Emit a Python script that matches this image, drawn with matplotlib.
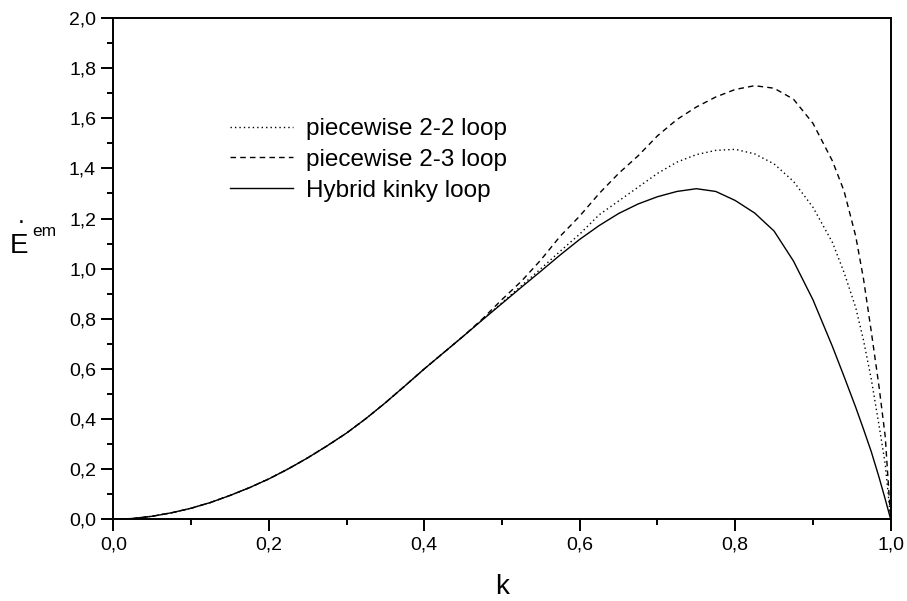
import matplotlib
matplotlib.use('Agg')
import matplotlib.pyplot as plt
from matplotlib.ticker import MultipleLocator, FuncFormatter

plt.rcParams['font.family'] = ['Liberation Sans', 'DejaVu Sans']

k = [0.0, 0.025, 0.05, 0.075, 0.1, 0.125, 0.15, 0.175, 0.2, 0.225, 0.25, 0.275, 0.3,
     0.325, 0.35, 0.375, 0.4, 0.425, 0.45, 0.475, 0.5, 0.525, 0.55, 0.575, 0.6, 0.625,
     0.65, 0.675, 0.7, 0.725, 0.75, 0.775, 0.8, 0.825, 0.85, 0.875, 0.9, 0.925, 0.94,
     0.955, 0.965, 0.975, 0.985, 0.993, 1.0]
# common rising part, k = 0 .. 0.45
e_low = [0.0, 0.003, 0.012, 0.026, 0.044, 0.067, 0.095, 0.126, 0.161, 0.201, 0.245, 0.293,
         0.344, 0.402, 0.465, 0.532, 0.600, 0.665, 0.730]
e_22 = e_low + [0.797, 0.864, 0.932, 1.000, 1.07, 1.138, 1.215, 1.27, 1.325, 1.38, 1.425,
                1.455, 1.472, 1.476, 1.458, 1.418, 1.348, 1.245, 1.105, 0.985, 0.845, 0.715, 0.56,
                0.375, 0.22, 0.0]
e_23 = e_low + [0.80, 0.877, 0.95, 1.035, 1.13, 1.21, 1.30, 1.38, 1.45, 1.53, 1.595, 1.645,
                1.685, 1.715, 1.73, 1.72, 1.676, 1.58, 1.43, 1.31, 1.13, 0.96, 0.75, 0.53,
                0.33, 0.0]
e_hyb = e_low + [0.796, 0.861, 0.926, 0.99, 1.055, 1.117, 1.172, 1.22, 1.258, 1.287, 1.308,
                 1.319, 1.308, 1.272, 1.222, 1.150, 1.03, 0.876, 0.69, 0.57, 0.447, 0.36,
                 0.27, 0.168, 0.08, 0.0]
labels = ['piecewise 2-2 loop', 'piecewise 2-3 loop', 'Hybrid kinky loop']

fig = plt.figure(figsize=(9.07, 6.01), dpi=100)
ax = fig.add_axes([0.125, 0.136, 0.857, 0.834])

ax.plot(k, e_22, color='black', lw=1.0, dashes=(1, 2.2), label=labels[0])
ax.plot(k, e_23, color='black', lw=1.0, dashes=(4, 3), label=labels[1])
ax.plot(k, e_hyb, color='black', lw=1.0, label=labels[2])

ax.set_xlim(0, 1)
ax.set_ylim(0, 2)
ax.xaxis.set_major_locator(MultipleLocator(0.2))
ax.xaxis.set_minor_locator(MultipleLocator(0.1))
ax.yaxis.set_major_locator(MultipleLocator(0.2))
ax.yaxis.set_minor_locator(MultipleLocator(0.1))
comma = FuncFormatter(lambda v, p: f'{v:.1f}'.replace('.', ','))
ax.xaxis.set_major_formatter(comma)
ax.yaxis.set_major_formatter(comma)
ax.tick_params(which='major', direction='out', length=8.5, width=1.4, labelsize=14, pad=4)
ax.tick_params(which='minor', direction='out', length=4.3, width=1.4)
for s in ax.spines.values():
    s.set_linewidth(1.4)

ax.legend(loc='upper left', bbox_to_anchor=(218 / 907, 1 - 106 / 601),
          bbox_transform=fig.transFigure, frameon=False, fontsize=17.5, borderpad=0,
          handlelength=2.6, handletextpad=0.5, labelspacing=0.36)

fig.text(502 / 907, 1 - 594 / 601, 'k', fontsize=20, ha='center', va='baseline')
fig.text(10 / 907, 1 - 253 / 601, 'E', fontsize=20, va='baseline')
fig.text(20.7 / 907, 1 - 222.7 / 601, '.', fontsize=18, ha='center', va='baseline')
fig.text(32 / 907, 1 - 236 / 601, 'em', fontsize=12.5, va='baseline')

fig.savefig('out.png', dpi=100)
